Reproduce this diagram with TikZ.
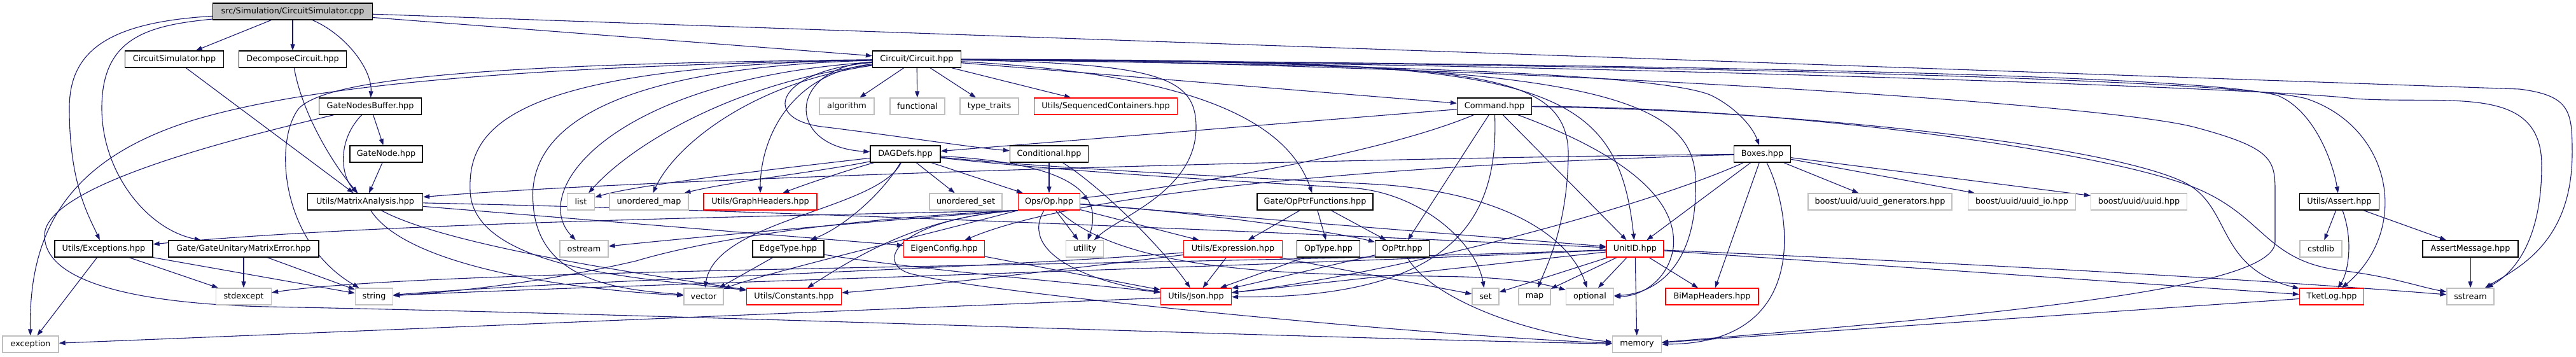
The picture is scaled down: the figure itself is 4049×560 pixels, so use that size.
\documentclass[tikz,border=0pt]{standalone}
\usepackage{fontspec}
\setmainfont{DejaVu Sans}
\usetikzlibrary{arrows.meta,backgrounds}
\definecolor{ink}{HTML}{000000}
\definecolor{edgeblue}{HTML}{191970}
\definecolor{sysline}{HTML}{BFBFBF}
\definecolor{rootfill}{HTML}{BFBFBF}
\definecolor{truncline}{HTML}{FF0000}

\begin{document}
\begin{tikzpicture}[
  x=1pt, y=-1pt,
  font=\fontsize{12.8}{15}\selectfont,
  box/.style 2 args={
    draw=#1,
    fill=#2,
    line width=1.3pt,
    minimum height=26pt,
    inner sep=0pt
  },
  docbox/.style={box={ink}{white}},
  redbox/.style={box={truncline}{white}},
  sysbox/.style={box={sysline}{white}},
  rootbox/.style={box={ink}{rootfill}},
  dep/.style={-{Triangle[length=10pt,width=7pt]}, draw=edgeblue, line width=1.1pt}
]

% canvas
\useasboundingbox (0,0) rectangle (4049,560);

% row 0
\node[rootbox, minimum width=251pt] (root) at (460,18) {src/Simulation/CircuitSimulator.cpp};

% row 1
\node[docbox, minimum width=155pt] (csimh) at (274,93) {CircuitSimulator.hpp};
\node[docbox, minimum width=169pt] (decomp) at (460,93) {DecomposeCircuit.hpp};
\node[docbox, minimum width=139pt] (circ) at (1441,93) {Circuit/Circuit.hpp};

% row 2
\node[docbox, minimum width=161pt] (gnb) at (582,167) {GateNodesBuffer.hpp};
\node[sysbox, minimum width=86pt] (algo) at (1331,167) {algorithm};
\node[sysbox, minimum width=86pt] (func) at (1442,167) {functional};
\node[sysbox, minimum width=92pt] (tt) at (1555,167) {type\_traits};
\node[redbox, minimum width=225pt] (seq) at (1738,167) {Utils/SequencedContainers.hpp};
\node[docbox, minimum width=117pt] (cmd) at (2349,167) {Command.hpp};

% row 3
\node[docbox, minimum width=114pt] (gnode) at (607,242) {GateNode.hpp};
\node[docbox, minimum width=110pt] (dag) at (1423,242) {DAGDefs.hpp};
\node[docbox, minimum width=123pt] (cond) at (1649,242) {Conditional.hpp};
\node[docbox, minimum width=89pt] (boxes) at (2770,242) {Boxes.hpp};

% row 4
\node[docbox, minimum width=181pt] (matrix) at (574,317) {Utils/MatrixAnalysis.hpp};
\node[sysbox, minimum width=43pt] (list) at (913,317) {list};
\node[sysbox, minimum width=124pt] (umap) at (1020,317) {unordered\_map};
\node[redbox, minimum width=178pt] (graph) at (1195,317) {Utils/GraphHeaders.hpp};
\node[sysbox, minimum width=114pt] (uset) at (1518,317) {unordered\_set};
\node[redbox, minimum width=97pt] (op) at (1649,317) {Ops/Op.hpp};
\node[docbox, minimum width=182pt] (opf) at (2067,317) {Gate/OpPtrFunctions.hpp};
\node[sysbox, minimum width=226pt] (uuidgen) at (2955,317) {boost/uuid/uuid\_generators.hpp};
\node[sysbox, minimum width=169pt] (uuidio) at (3178,317) {boost/uuid/uuid\_io.hpp};
\node[sysbox, minimum width=151pt] (uuid) at (3362,317) {boost/uuid/uuid.hpp};
\node[docbox, minimum width=125pt] (assert) at (3677,317) {Utils/Assert.hpp};

% row 5
\node[docbox, minimum width=154pt] (exc) at (163,391) {Utils/Exceptions.hpp};
\node[docbox, minimum width=236pt] (gume) at (383,391) {Gate/GateUnitaryMatrixError.hpp};
\node[sysbox, minimum width=76pt] (ostream) at (918,391) {ostream};
\node[docbox, minimum width=112pt] (edgetype) at (1239,391) {EdgeType.hpp};
\node[redbox, minimum width=127pt] (eigen) at (1484,391) {EigenConfig.hpp};
\node[sysbox, minimum width=59pt] (utility) at (1705,391) {utility};
\node[redbox, minimum width=155pt] (expr) at (1938,391) {Utils/Expression.hpp};
\node[docbox, minimum width=99pt] (optype) at (2088,391) {OpType.hpp};
\node[docbox, minimum width=85pt] (opptr) at (2204,391) {OpPtr.hpp};
\node[redbox, minimum width=90pt] (unitid) at (2570,391) {UnitID.hpp};
\node[sysbox, minimum width=66pt] (cstdlib) at (3648,391) {cstdlib};
\node[docbox, minimum width=150pt] (amsg) at (3883,391) {AssertMessage.hpp};

% row 6
\node[sysbox, minimum width=87pt] (stdexc) at (383,466) {stdexcept};
\node[sysbox, minimum width=59pt] (string) at (588,466) {string};
\node[sysbox, minimum width=62pt] (vector) at (1106,466) {vector};
\node[redbox, minimum width=149pt] (consts) at (1248,466) {Utils/Constants.hpp};
\node[redbox, minimum width=111pt] (json) at (1880,466) {Utils/Json.hpp};
\node[sysbox, minimum width=42pt] (setinc) at (2335,466) {set};
\node[sysbox, minimum width=50pt] (mapinc) at (2412,466) {map};
\node[sysbox, minimum width=75pt] (optional) at (2499,466) {optional};
\node[redbox, minimum width=146pt] (bimap) at (2691,466) {BiMapHeaders.hpp};
\node[redbox, minimum width=101pt] (tketlog) at (3665,466) {TketLog.hpp};
\node[sysbox, minimum width=74pt] (sstream) at (3883,466) {sstream};

% row 7
\node[sysbox, minimum width=88pt] (exception) at (48,541) {exception};
\node[sysbox, minimum width=77pt] (memory) at (2573,541) {memory};

\begin{scope}[on background layer]
% source file
\draw[dep] (root) -- (csimh);
\draw[dep] (root) -- (decomp);
\draw[dep] (root) .. controls (545,55) and (585,110) .. (gnb);
\draw[dep] (root) .. controls (170,35) and (109,80) .. (109,170) .. controls (109,290) and (140,340) .. (exc);
\draw[dep] (root) .. controls (230,40) and (160,60) .. (160,170) .. controls (160,270) and (230,360) .. (gume);
\draw[dep] (root) -- (circ);
\draw[dep] (root) -- (3960,140) .. controls (4040,150) and (4043,175) .. (4043,240) .. controls (4043,380) and (3960,420) .. (sstream);

% simulator headers
\draw[dep] (csimh) -- (matrix);
\draw[dep] (decomp) .. controls (475,180) and (525,260) .. (matrix);
\draw[dep] (gnb) -- (gnode);
\draw[dep] (gnb) .. controls (530,220) and (535,275) .. (matrix);
\draw[dep] (gnb) .. controls (380,215) and (70,290) .. (70,370) .. controls (70,450) and (240,478) .. (420,482) .. controls (1100,495) and (2000,530) .. (memory);
\draw[dep] (gnode) -- (matrix);
\draw[dep] (matrix) -- (eigen);
\draw[dep] (matrix) .. controls (1200,330) and (2000,365) .. (unitid);
\draw[dep] (matrix) .. controls (640,420) and (900,455) .. (vector);
\draw[dep] (matrix) .. controls (700,385) and (1000,430) .. (consts);

% exceptions
\draw[dep] (exc) -- (stdexc);
\draw[dep] (exc) -- (string);
\draw[dep] (exc) -- (exception);
\draw[dep] (gume) -- (stdexc);
\draw[dep] (gume) -- (string);

% Circuit.hpp, left side
\draw[dep] (circ) -- (algo);
\draw[dep] (circ) -- (func);
\draw[dep] (circ) -- (tt);
\draw[dep] (circ) -- (seq);
\draw[dep] (circ) .. controls (1240,105) and (1230,230) .. (dag);
\draw[dep] (circ) .. controls (1220,110) and (1190,190) .. (1300,200) .. controls (1420,215) and (1530,232) .. (cond);
\draw[dep] (circ) .. controls (1150,130) and (990,230) .. (list);
\draw[dep] (circ) .. controls (1180,130) and (1060,230) .. (umap);
\draw[dep] (circ) .. controls (1240,115) and (1195,220) .. (graph);
\draw[dep] (circ) .. controls (960,125) and (830,300) .. (ostream);
\draw[dep] (circ) .. controls (900,108) and (830,230) .. (838,320) .. controls (845,445) and (980,455) .. (vector);
\draw[dep] (circ) .. controls (800,105) and (735,200) .. (739,300) .. controls (743,430) and (1050,440) .. (consts);
\draw[dep] (circ) .. controls (800,100) and (520,120) .. (470,170) .. controls (430,220) and (440,380) .. (string);
\draw[dep] (circ) .. controls (800,105) and (480,135) .. (300,190) .. controls (110,250) and (45,360) .. (exception);

% Circuit.hpp, right side
\draw[dep] (circ) -- (cmd);
\draw[dep] (circ) .. controls (2000,100) and (2600,110) .. (2690,150) .. controls (2730,170) and (2755,200) .. (boxes);
\draw[dep] (circ) .. controls (1850,115) and (2020,180) .. (opf);
\draw[dep] (circ) .. controls (1820,100) and (1880,120) .. (1880,200) .. controls (1880,300) and (1760,340) .. (utility);
\draw[dep] (circ) .. controls (2300,100) and (2470,100) .. (2465,250) .. controls (2462,360) and (2430,420) .. (mapinc);
\draw[dep] (circ) .. controls (2400,95) and (2540,110) .. (unitid);
\draw[dep] (circ) .. controls (2450,95) and (2660,140) .. (2665,280) .. controls (2670,420) and (2600,462) .. (optional);
\draw[dep] (circ) .. controls (2500,100) and (3450,115) .. (3580,150) .. controls (3640,175) and (3668,260) .. (assert);
\draw[dep] (circ) .. controls (2500,100) and (3500,122) .. (3625,155) .. controls (3760,200) and (3790,360) .. (tketlog);
\draw[dep] (circ) .. controls (2500,100) and (3600,140) .. (3700,155) .. controls (3850,165) and (3995,130) .. (3995,260) .. controls (3995,380) and (3950,430) .. (sstream);
\draw[dep] (circ) .. controls (2300,100) and (3300,160) .. (3450,200) .. controls (3570,232) and (3576,250) .. (3576,300) -- (3576,380) .. controls (3576,450) and (3200,490) .. (memory);

% DAGDefs.hpp
\draw[dep] (dag) .. controls (1250,262) and (1000,290) .. (list);
\draw[dep] (dag) .. controls (1300,268) and (1150,285) .. (umap);
\draw[dep] (dag) .. controls (1340,265) and (1270,288) .. (graph);
\draw[dep] (dag) .. controls (1390,300) and (1330,355) .. (edgetype);
\draw[dep] (dag) .. controls (1380,330) and (1125,345) .. (vector);
\draw[dep] (dag) -- (uset);
\draw[dep] (dag) -- (op);
\draw[dep] (dag) .. controls (1650,255) and (1740,290) .. (utility);
\draw[dep] (dag) .. controls (1700,272) and (1950,285) .. (2120,295) .. controls (2230,300) and (2320,380) .. (setinc);
\draw[dep] (dag) .. controls (1700,268) and (1950,278) .. (2170,290) .. controls (2380,305) and (2470,380) .. (optional);

% Conditional.hpp, Command.hpp
\draw[dep] (cond) -- (op);
\draw[dep] (cond) .. controls (1740,300) and (1835,400) .. (json);
\draw[dep] (cmd) -- (dag);
\draw[dep] (cmd) .. controls (2150,250) and (1800,300) .. (op);
\draw[dep] (cmd) -- (opptr);
\draw[dep] (cmd) -- (unitid);
\draw[dep] (cmd) .. controls (2355,330) and (2300,470) .. (json);
\draw[dep] (cmd) .. controls (2520,230) and (2640,300) .. (2630,390) .. controls (2622,440) and (2580,466) .. (optional);
\draw[dep] (cmd) .. controls (2800,172) and (3300,225) .. (3430,285) .. controls (3510,322) and (3480,420) .. (tketlog);
\draw[dep] (cmd) .. controls (2800,168) and (3300,235) .. (3450,295) .. controls (3560,340) and (3560,410) .. (3680,425) .. controls (3760,435) and (3800,450) .. (sstream);

% Boxes.hpp
\draw[dep] (boxes) .. controls (2000,250) and (1000,282) .. (matrix);
\draw[dep] (boxes) .. controls (2200,258) and (1700,300) .. (eigen);
\draw[dep] (boxes) .. controls (2600,320) and (2200,430) .. (json);
\draw[dep] (boxes) -- (unitid);
\draw[dep] (boxes) -- (bimap);
\draw[dep] (boxes) .. controls (2815,330) and (2850,540) .. (memory);
\draw[dep] (boxes) -- (uuidgen);
\draw[dep] (boxes) -- (uuidio);
\draw[dep] (boxes) -- (uuid);

% Ops/Op.hpp
\draw[dep] (op) .. controls (1600,400) and (1720,445) .. (json);
\draw[dep] (op) -- (utility);
\draw[dep] (op) -- (expr);
\draw[dep] (op) .. controls (1900,335) and (2100,365) .. (opptr);
\draw[dep] (op) -- (unitid);
\draw[dep] (op) .. controls (1780,440) and (2100,430) .. (2300,435) .. controls (2400,438) and (2440,450) .. (optional);
\draw[dep] (op.south west) .. controls (1400,345) and (1370,420) .. (1440,432) .. controls (1550,460) and (2200,525) .. (memory);
\draw[dep] (op.south west) .. controls (1400,345) and (1100,372) .. (ostream);
\draw[dep] (op.south west) .. controls (1450,370) and (1200,430) .. (vector);
\draw[dep] (op.south west) .. controls (1450,340) and (1350,400) .. (consts);
\draw[dep] (op.south west) .. controls (1300,345) and (1100,380) .. (1000,410) .. controls (850,445) and (700,460) .. (string);
\draw[dep] (op.south west) .. controls (1200,340) and (600,350) .. (exc);

% other headers
\draw[dep] (expr) -- (json);
\draw[dep] (expr) -- (setinc);
\draw[dep] (expr) .. controls (1700,420) and (1450,450) .. (consts);
\draw[dep] (expr) .. controls (1500,425) and (900,440) .. (string);
\draw[dep] (opf) -- (expr);
\draw[dep] (opf) -- (optype);
\draw[dep] (opf) -- (opptr);
\draw[dep] (optype) -- (json);
\draw[dep] (opptr) -- (json);
\draw[dep] (opptr) .. controls (2250,470) and (2400,525) .. (memory);
\draw[dep] (eigen) -- (json);
\draw[dep] (edgetype) -- (vector);
\draw[dep] (edgetype) .. controls (1450,425) and (1700,445) .. (json);
\draw[dep] (json) .. controls (1400,485) and (700,515) .. (exception);

% UnitID.hpp
\draw[dep] (unitid) -- (setinc);
\draw[dep] (unitid) -- (mapinc);
\draw[dep] (unitid) -- (optional);
\draw[dep] (unitid) -- (memory);
\draw[dep] (unitid) -- (bimap);
\draw[dep] (unitid) -- (json);
\draw[dep] (unitid) .. controls (2000,418) and (900,450) .. (string);
\draw[dep] (unitid) .. controls (1800,420) and (700,420) .. (stdexc);
\draw[dep] (unitid) .. controls (3000,410) and (3500,435) .. (sstream);
\draw[dep] (unitid) -- (tketlog);

% logging and assertions
\draw[dep] (tketlog) -- (memory);
\draw[dep] (assert) -- (cstdlib);
\draw[dep] (assert) .. controls (3700,380) and (3690,430) .. (tketlog);
\draw[dep] (assert) -- (amsg);
\draw[dep] (amsg) -- (sstream);
\end{scope}

\end{tikzpicture}
\end{document}
